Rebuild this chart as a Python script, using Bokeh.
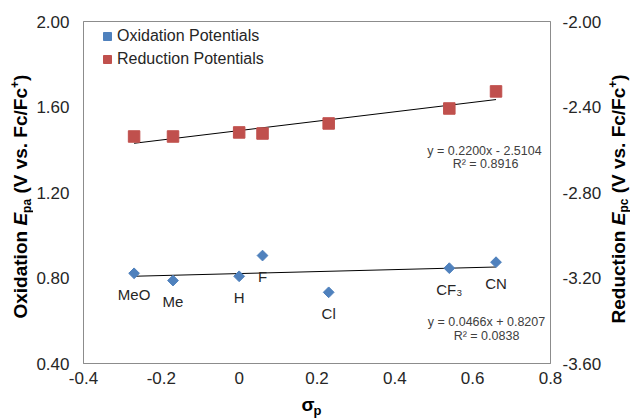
import math
from bokeh.plotting import figure
from bokeh.layouts import row, column
from bokeh.models import (Range1d, LinearAxis, FixedTicker, Label, Legend,
                          LegendItem, ColumnDataSource)
from bokeh.embed import file_html
from bokeh.resources import INLINE
from bokeh.core.properties import value

# ---------------- data ----------------
substituents = ["MeO", "Me", "H", "F", "Cl", "CF\u2083", "CN"]
sigma_p = [-0.27, -0.17, 0.0, 0.06, 0.23, 0.54, 0.66]
oxidation_epa = [0.822, 0.788, 0.808, 0.905, 0.733, 0.846, 0.874]
reduction_epc = [-2.538, -2.538, -2.519, -2.524, -2.477, -2.407, -2.327]

ox_slope, ox_intercept = 0.0466, 0.8207
red_slope, red_intercept = 0.2200, -2.5104
ox_eq = ["y = 0.0466x + 0.8207", "R\u00b2 = 0.0838"]
red_eq = ["y = 0.2200x - 2.5104", "R\u00b2 = 0.8916"]

x_ticks = [-0.4, -0.2, 0.0, 0.2, 0.4, 0.6, 0.8]
x_tick_labels = ["-0.4", "-0.2", "0", "0.2", "0.4", "0.6", "0.8"]
y_ticks = [0.4, 0.8, 1.2, 1.6, 2.0]
y_tick_labels = ["0.40", "0.80", "1.20", "1.60", "2.00"]
y2_ticks = [-3.6, -3.2, -2.8, -2.4, -2.0]
y2_tick_labels = ["-3.60", "-3.20", "-2.80", "-2.40", "-2.00"]

# ---------------- style ----------------
FONT = "Liberation Sans"
BLUE = "#4F81BD"
RED = "#C0504D"
GREY = "#8c8c8c"
TXT = "#262626"

LEFT_W, RIGHT_W, BOTTOM_H = 33, 26, 26
MAIN_W, MAIN_H = 630 - LEFT_W - RIGHT_W, 418 - BOTTOM_H

p = figure(width=MAIN_W, height=MAIN_H, output_backend="svg",
           toolbar_location=None, title=None,
           x_range=Range1d(x_ticks[0], x_ticks[-1]),
           y_range=Range1d(y_ticks[0], y_ticks[-1]),
           min_border_left=49, min_border_right=51,
           min_border_top=21, min_border_bottom=29)
p.extra_y_ranges = {"red": Range1d(y2_ticks[0], y2_ticks[-1])}
p.xgrid.visible = False
p.ygrid.visible = False
p.outline_line_color = GREY
p.outline_line_width = 1
p.background_fill_color = "white"
p.border_fill_color = "white"

p.add_layout(LinearAxis(y_range_name="red"), "right")


def style_axis(ax, ticks, labels, standoff):
    ax.ticker = FixedTicker(ticks=ticks)
    ax.major_label_overrides = {t: l for t, l in zip(ticks, labels)}
    ax.axis_line_color = GREY
    ax.major_tick_line_color = None
    ax.minor_tick_line_color = None
    ax.major_tick_out = 0
    ax.major_tick_in = 0
    ax.major_label_standoff = standoff
    ax.major_label_text_font = FONT
    ax.major_label_text_font_size = "17px"
    ax.major_label_text_color = TXT


style_axis(p.xaxis[0], x_ticks, x_tick_labels, 8)
style_axis(p.yaxis[0], y_ticks, y_tick_labels, 14)
style_axis(p.yaxis[1], y2_ticks, y2_tick_labels, 12)

# ---------------- trend lines ----------------
xs_fit = [min(sigma_p), max(sigma_p)]
p.line(xs_fit, [ox_slope * x + ox_intercept for x in xs_fit],
       line_color="black", line_width=1)
p.line(xs_fit, [red_slope * x + red_intercept for x in xs_fit],
       line_color="black", line_width=1, y_range_name="red")

# ---------------- points ----------------
src = ColumnDataSource(dict(x=sigma_p, ox=oxidation_epa, red=reduction_epc,
                            lab=substituents))
r_ox = p.scatter("x", "ox", source=src, marker="square", size=7.6,
                 angle=math.pi / 4, fill_color=BLUE, line_color=BLUE)
r_red = p.scatter("x", "red", source=src, marker="square", size=11.5,
                  fill_color=RED, line_color=RED, y_range_name="red")

p.text("x", "ox", text="lab", source=src, text_font=value(FONT),
       text_font_size="15px", text_color=TXT, text_align="center",
       text_baseline="middle", y_offset=21)

# ---------------- legend ----------------
leg = Legend(items=[LegendItem(label="Oxidation Potentials", renderers=[r_ox]),
                    LegendItem(label="Reduction Potentials", renderers=[r_red])],
             location=(14, 294), margin=0, padding=5, spacing=3,
             glyph_width=20, glyph_height=20, label_standoff=0,
             label_text_font=FONT, label_text_font_size="16px",
             label_text_color=TXT, border_line_color=None,
             background_fill_alpha=0)
p.add_layout(leg)


# ---------------- equation labels (screen units, frame relative) -------------
def lab(fig, text, x, y, size="12.5px", **kw):
    opts = dict(x=x, y=y, x_units="screen", y_units="screen", text=text,
                text_font=FONT, text_font_size=size, text_color="#404040",
                text_align="center", text_baseline="middle")
    opts.update(kw)
    fig.add_layout(Label(**opts))


lab(p, red_eq[0], 401, 213)
lab(p, red_eq[1], 402, 200)
lab(p, ox_eq[0], 403, 42)
lab(p, ox_eq[1], 403, 28)


# ---------------- side panels for the axis titles ----------------
def side_fig(w, h):
    f = figure(width=w, height=h, output_backend="svg", toolbar_location=None,
               title=None, x_axis_type=None, y_axis_type=None,
               x_range=Range1d(0, w), y_range=Range1d(0, h), min_border=0)
    f.outline_line_color = None
    f.background_fill_color = "white"
    f.border_fill_color = "white"
    return f


def piece(fig, text, x, y, size, angle=0.0, style="bold"):
    fig.add_layout(Label(x=x, y=y, x_units="screen", y_units="screen",
                         text=text, text_font=FONT, text_font_size=size,
                         text_font_style=style, text_color="black",
                         angle=angle, text_align="left",
                         text_baseline="middle"))


A = math.pi / 2
left_fig = side_fig(LEFT_W, 418)
bx, by = 20, 100
piece(left_fig, "Oxidation", bx, by, "19px", A)
piece(left_fig, "E", bx, by + 92.9, "19px", A, "bold italic")
piece(left_fig, "pa", bx + 6, by + 105.6, "12px", A)
piece(left_fig, "(V vs. Fc/Fc", bx, by + 124.9, "19px", A)
piece(left_fig, "+", bx - 6, by + 230.5, "12px", A)
piece(left_fig, ")", bx, by + 237.5, "19px", A)

right_fig = side_fig(RIGHT_W, 418)
rx, ry = 13.5, 95
piece(right_fig, "Reduction", rx, ry, "19px", A)
piece(right_fig, "E", rx, ry + 98.2, "19px", A, "bold italic")
piece(right_fig, "pc", rx + 5.5, ry + 110.9, "12px", A)
piece(right_fig, "(V vs. Fc/Fc", rx, ry + 130.2, "19px", A)
piece(right_fig, "+", rx - 5.5, ry + 235.8, "12px", A)
piece(right_fig, ")", rx, ry + 242.8, "19px", A)

bottom_fig = side_fig(MAIN_W, BOTTOM_H)
piece(bottom_fig, "\u03c3", 218, 14.5, "19px")
piece(bottom_fig, "p", 230, 8, "13px")

layout = row(left_fig, column(p, bottom_fig), right_fig)

open("out.html", "w").write(file_html(layout, INLINE))
